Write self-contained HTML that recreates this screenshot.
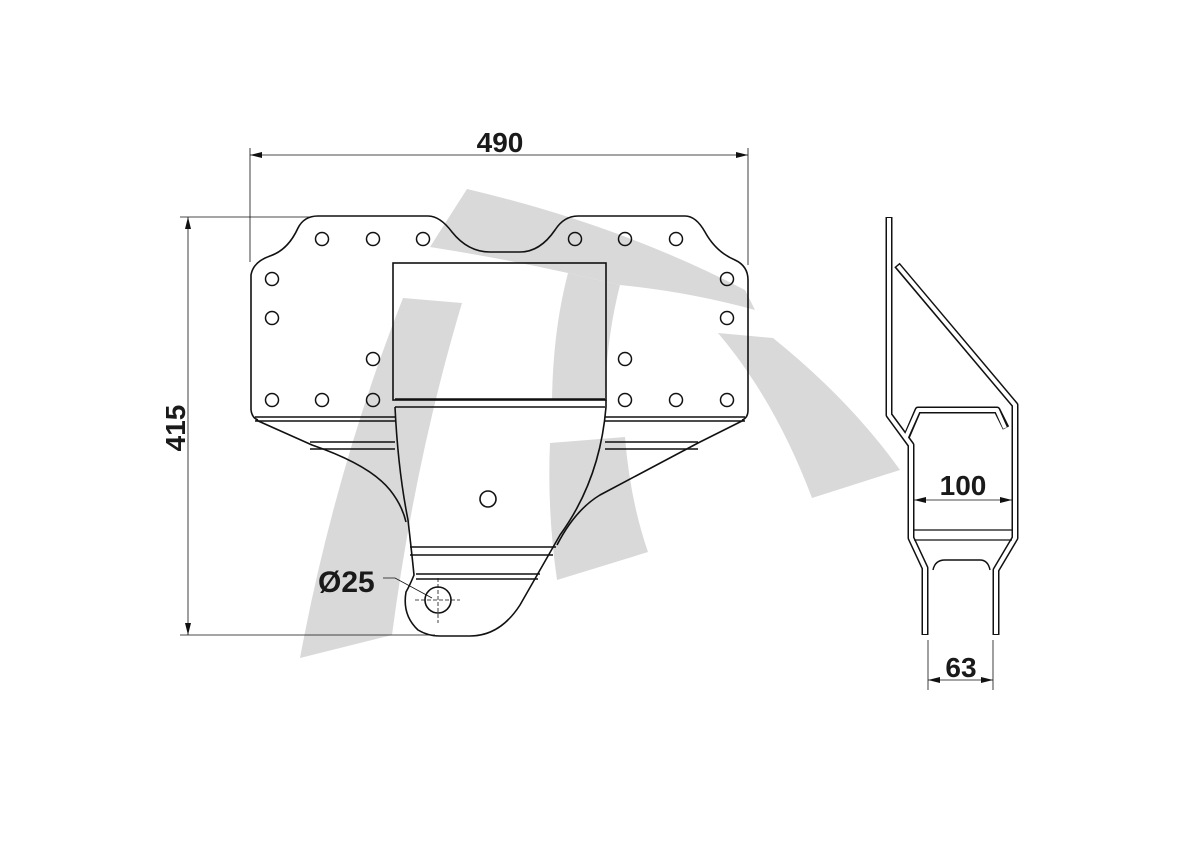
<!DOCTYPE html>
<html><head><style>body{margin:0;background:#fff}svg{display:block}text{font-family:"Liberation Sans",sans-serif;font-weight:bold;fill:#1a1a1a}</style></head>
<body>
<svg width="1200" height="848" viewBox="0 0 1200 848" xmlns="http://www.w3.org/2000/svg">
<g fill="#d9d9d9">
<path d="M300,658 Q335,470 403,298 L462,303 Q415,460 392,635 Z"/>
<path d="M467,189 Q620,225 745,290 L755,310 Q690,292 620,285 L568,273 Q500,258 430,247 Z"/>
<path d="M568,273 L620,285 Q606,340 605,400 L552,400 Q553,330 568,273 Z"/>
<path d="M550,443 L625,437 Q630,500 648,552 L557,580 Q547,510 550,443 Z"/>
<path d="M718,333 L773,338 Q850,400 900,470 L812,498 Q775,400 718,333 Z"/>
</g>
<g fill="none" stroke="#111" stroke-width="1.6">
<path d="M251,410 L251,275 Q253,262 270,256 Q288,250 298,228 Q304,216 318,216 L428,216 Q440,216 452,232 Q468,252 490,252 L520,252 Q540,252 555,230 Q564,216 578,216 L685,216 Q696,216 705,232 Q716,252 735,260 Q748,266 748,280 L748,410 Q748,418 742,420"/>
<path d="M251,410 Q252,418 258,420"/>
<path d="M255,417 L395,417 M255,421 L395,421 M605,417 L745,417 M605,421 L745,421"/>
<path d="M310,442 L395,442 M310,449 L395,449 M605,442 L698,442 M605,449 L698,449"/>
<path d="M256,420 L312,445 Q370,465 390,490 Q402,505 406,522"/>
<path d="M744,420 L698,443 L600,495 Q575,510 557,545"/>
<rect x="393" y="263" width="213" height="137"/>
<path d="M395,399 L605,399 M395,407 L605,407"/>
<path d="M395,407 Q398,470 408,520 Q412,555 414,575 Q410,585 406,592 Q402,615 418,630 Q428,636 440,636 L470,636 Q500,636 520,605 Q540,570 560,535 Q600,480 606,407 L606,400"/>
<path d="M410,547 L556,547 M410,555 L553,555 M416,574 L540,574 M416,579 L538,579"/>
<circle cx="488" cy="499" r="8"/>
<circle cx="438" cy="600" r="13"/>
<g stroke-width="1.5">
<circle cx="322" cy="239" r="6.5"/><circle cx="373" cy="239" r="6.5"/><circle cx="423" cy="239" r="6.5"/>
<circle cx="575" cy="239" r="6.5"/><circle cx="625" cy="239" r="6.5"/><circle cx="676" cy="239" r="6.5"/>
<circle cx="272" cy="279" r="6.5"/><circle cx="727" cy="279" r="6.5"/>
<circle cx="272" cy="318" r="6.5"/><circle cx="727" cy="318" r="6.5"/>
<circle cx="373" cy="359" r="6.5"/><circle cx="625" cy="359" r="6.5"/>
<circle cx="272" cy="400" r="6.5"/><circle cx="322" cy="400" r="6.5"/><circle cx="373" cy="400" r="6.5"/>
<circle cx="625" cy="400" r="6.5"/><circle cx="676" cy="400" r="6.5"/><circle cx="727" cy="400" r="6.5"/>
</g>
</g>
<g stroke="#111" stroke-width="0.8" fill="none">
<path d="M415,600 L460,600 M438,578 L438,623" stroke-dasharray="4,2"/>
<path d="M383,578 L395,578 L432,598"/>
<path d="M250,148 L250,262 M748,148 L748,265 M250,155 L748,155"/>
<path d="M180,217 L310,217 M180,635 L435,635 M188,217 L188,635"/>
<path d="M914,500 L1012,500 M928,640 L928,690 M993,640 L993,690 M928,680 L993,680"/>
</g>
<g fill="#111">
<path d="M250,155 l12,-3 v6 z M748,155 l-12,-3 v6 z M188,217 l-3,12 h6 z M188,635 l-3,-12 h6 z M914,500 l12,-3 v6 z M1012,500 l-12,-3 v6 z M928,680 l12,-3 v6 z M993,680 l-12,-3 v6 z"/>
</g>
<g fill="none" stroke-linejoin="round">
<g stroke="#111" stroke-width="7">
<path d="M889,217 L889,415 L911,445 L911,538 L925,568 L925,635"/>
<path d="M897,265 L1015,405 L1015,538 L996,570 L996,635"/>
<path d="M906,438 L918,410 L997,410 L1006,428"/>
</g>
<g stroke="#fff" stroke-width="4">
<path d="M889,218 L889,415 L911,445 L911,538 L925,568 L925,634"/>
<path d="M898,266 L1015,405 L1015,538 L996,570 L996,634"/>
<path d="M906,437 L918,410 L997,410 L1005,428"/>
</g>
<path d="M914,530 L1012,530 M914,540 L1012,540" stroke="#111" stroke-width="1.2"/>
<path d="M933,570 Q935,560 945,560 L980,560 Q988,560 990,570" stroke="#111" stroke-width="1.4"/>
</g>
<text x="500" y="152" font-size="28" text-anchor="middle">490</text>
<text x="0" y="0" font-size="28" text-anchor="middle" transform="translate(185,428) rotate(-90)">415</text>
<text x="318" y="592" font-size="30">Ø25</text>
<text x="963" y="495" font-size="28" text-anchor="middle">100</text>
<text x="961" y="677" font-size="28" text-anchor="middle">63</text>
</svg>
</body></html>
